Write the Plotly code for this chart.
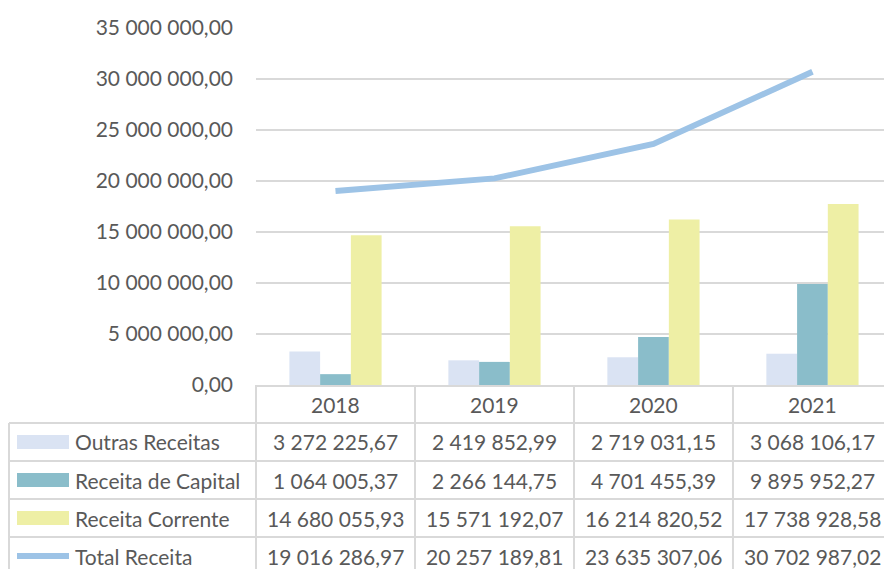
import plotly.graph_objects as go

# data
years = ["2018", "2019", "2020", "2021"]
outras_receitas = [3272225.67, 2419852.99, 2719031.15, 3068106.17]
receita_capital = [1064005.37, 2266144.75, 4701455.39, 9895952.27]
receita_corrente = [14680055.93, 15571192.07, 16214820.52, 17738928.58]
total_receita = [19016286.97, 20257189.81, 23635307.06, 30702987.02]

series_names = ["Outras Receitas", "Receita de Capital", "Receita Corrente", "Total Receita"]
colors = ["#DAE3F3", "#8ABDCA", "#EEEFA5", "#9DC3E6"]

FONT = "Lato"
TXT = "#595959"
GRID = "#D9D9D9"
FS = 21

W, H = 884, 569
ML, MT, MR = 256, 28, 0
PLOT_BOTTOM = 385
MB = H - PLOT_BOTTOM
PH = H - MT - MB
PW = W - ML - MR
XMAX = 3.45  # last category is cut by the right edge, as in the original


def fmt(v):
    # 1234567.89 -> "1 234 567,89"
    return f"{v:,.2f}".replace(",", " ").replace(".", ",")


def py(pix):
    # pixel row -> paper y
    return (PLOT_BOTTOM - pix) / PH


def px_(pix):
    # pixel column -> paper x
    return (pix - ML) / PW


xs = list(range(len(years)))

fig = go.Figure()
for name, vals, col in zip(series_names[:3], [outras_receitas, receita_capital, receita_corrente], colors[:3]):
    fig.add_trace(go.Bar(x=xs, y=vals, name=name, marker_color=col, marker_line_width=0))

fig.add_trace(go.Scatter(x=xs, y=total_receita, name=series_names[3], mode="lines",
                         line=dict(color=colors[3], width=6)))

# data table under the chart
row_tops = [385, 423, 461, 499, 537]
row_h = 38
shapes = []
annots = []
tfont = dict(size=FS, color=TXT, family=FONT)

# year header cells
for i, y in enumerate(years):
    annots.append(dict(x=i, xref="x", y=py(row_tops[0] + row_h / 2), yref="paper",
                       xanchor="center", yanchor="middle",
                       text=y, showarrow=False, font=tfont))

# horizontal table lines
for t in row_tops[1:]:
    shapes.append(dict(type="line", xref="paper", yref="paper", x0=px_(9), x1=1.05,
                       y0=py(t), y1=py(t), line=dict(color=GRID, width=2)))

# vertical table lines
bottom = py(H + 20)
shapes.append(dict(type="line", xref="paper", yref="paper", x0=px_(9), x1=px_(9),
                   y0=py(row_tops[1]), y1=bottom, line=dict(color=GRID, width=2)))
for k in range(len(years)):
    xp = k / (XMAX + 0.5)
    shapes.append(dict(type="line", xref="paper", yref="paper", x0=xp, x1=xp,
                       y0=py(row_tops[0]), y1=bottom, line=dict(color=GRID, width=2)))

table_rows = [outras_receitas, receita_capital, receita_corrente, total_receita]
for r, (name, vals, col) in enumerate(zip(series_names, table_rows, colors)):
    top = row_tops[r + 1]
    mid = top + row_h / 2
    if r < 3:
        shapes.append(dict(type="rect", xref="paper", yref="paper", x0=px_(17), x1=px_(69),
                           y0=py(mid - 7), y1=py(mid + 7), fillcolor=col, line_width=0))
    else:
        shapes.append(dict(type="line", xref="paper", yref="paper", x0=px_(17), x1=px_(69),
                           y0=py(mid), y1=py(mid), line=dict(color=col, width=6)))
    annots.append(dict(x=px_(73), xref="paper", y=py(mid), yref="paper", text=name,
                       xanchor="left", yanchor="middle", showarrow=False, font=tfont))
    for i, v in enumerate(vals):
        annots.append(dict(x=i, xref="x", y=py(mid), yref="paper", text=fmt(v),
                           xanchor="center", yanchor="middle", showarrow=False, font=tfont))

fig.update_layout(
    width=W, height=H,
    margin=dict(l=ML, r=MR, t=MT, b=MB, autoexpand=False),
    plot_bgcolor="white", paper_bgcolor="white",
    barmode="group", bargap=0.42, bargroupgap=0,
    showlegend=False,
    separators=", ",
    font=dict(family=FONT, size=FS, color=TXT),
    shapes=shapes, annotations=annots,
)
fig.update_xaxes(range=[-0.5, XMAX], showticklabels=False, showgrid=False, zeroline=False,
                 showline=True, linecolor=GRID, linewidth=2, fixedrange=True)
fig.update_yaxes(range=[0, 35000000], dtick=5000000, tickformat=",.2f", showgrid=True,
                 gridcolor=GRID, gridwidth=1.5, zeroline=False, showline=False,
                 ticklabelstandoff=22, tickfont=tfont)

# drop the default page margin so the figure sits at the window's corner
fig.write_html("out.html",
               config={"displayModeBar": False},
               post_script="document.body.style.margin='0';document.body.style.overflow='hidden';")
